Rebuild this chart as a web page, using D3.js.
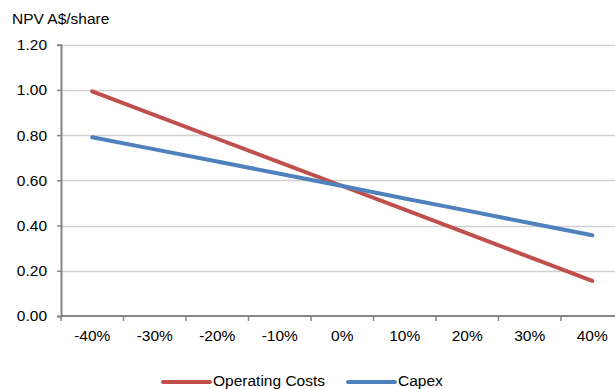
<!DOCTYPE html>
<html>
<head>
<meta charset="utf-8">
<script src="https://cdn.jsdelivr.net/npm/d3@7"></script>
<style>
  html, body { margin: 0; padding: 0; background: #fff; }
  svg { display: block; font-family: "Liberation Sans", Arial, sans-serif; }
</style>
</head>
<body>
<svg id="chart" width="615" height="389"></svg>
<script>
// Sensitivity of NPV to changes in inputs
const categories = ["-40%", "-30%", "-20%", "-10%", "0%", "10%", "20%", "30%", "40%"];
const operatingCosts = [0.994, 0.889, 0.784, 0.679, 0.575, 0.470, 0.365, 0.260, 0.155];
const capex = [0.791, 0.737, 0.683, 0.629, 0.575, 0.520, 0.466, 0.411, 0.357];
const yTicks = [0, 0.2, 0.4, 0.6, 0.8, 1.0, 1.2];

const series = [
  { name: "Operating Costs", values: operatingCosts, color: "#C0504D" },
  { name: "Capex", values: capex, color: "#4F81BD" }
];

const FONT = "'Liberation Sans', Arial, sans-serif";
const FS = "15.5px";

const svg = d3.select("#chart");
const plotLeft = 61, plotTop = 44.7, plotBottom = 316, band = 62.5;

const x = d3.scaleBand()
  .domain(categories)
  .range([plotLeft, plotLeft + band * categories.length])
  .paddingInner(0).paddingOuter(0);

const y = d3.scaleLinear().domain([0, 1.2]).range([plotBottom, plotTop]);

// horizontal gridlines
svg.append("g")
  .selectAll("line")
  .data(yTicks.filter(d => d > 0))
  .join("line")
  .attr("x1", plotLeft).attr("x2", 615)
  .attr("y1", d => Math.round(y(d)) + 0.5)
  .attr("y2", d => Math.round(y(d)) + 0.5)
  .attr("stroke", "#d0d0d0")
  .attr("stroke-width", 1.3);

// y axis
const yAxis = svg.append("g")
  .attr("transform", `translate(${plotLeft},0)`)
  .call(d3.axisLeft(y).tickValues(yTicks).tickFormat(d3.format(".2f")).tickSize(4).tickPadding(10));
yAxis.select(".domain").attr("stroke", "#868686").attr("stroke-width", 2);
yAxis.selectAll(".tick line").attr("stroke", "#868686").attr("stroke-width", 1.5);
yAxis.selectAll("text").attr("fill", "#000").style("font-size", FS).style("font-family", FONT);

// x axis: labels centred in each band, ticks on band edges
const xAxis = svg.append("g")
  .attr("transform", `translate(0,${plotBottom})`)
  .call(d3.axisBottom(x).tickSize(0).tickPadding(14));
xAxis.select(".domain").remove();
xAxis.selectAll("text").attr("fill", "#000").style("font-size", FS).style("font-family", FONT);
svg.append("line")
  .attr("x1", plotLeft).attr("x2", 615)
  .attr("y1", plotBottom).attr("y2", plotBottom)
  .attr("stroke", "#868686").attr("stroke-width", 2);
svg.append("g")
  .selectAll("line")
  .data(categories)
  .join("line")
  .attr("x1", d => x(d)).attr("x2", d => x(d))
  .attr("y1", plotBottom).attr("y2", plotBottom + 5)
  .attr("stroke", "#868686").attr("stroke-width", 1.5);

// axis title
svg.append("text")
  .attr("x", 12).attr("y", 24)
  .style("font-size", FS).style("font-family", FONT)
  .text("NPV A$/share");

// series lines
const line = d3.line()
  .x((d, i) => x(categories[i]) + x.bandwidth() / 2)
  .y(d => y(d));

svg.append("g")
  .selectAll("path")
  .data(series)
  .join("path")
  .attr("d", s => line(s.values))
  .attr("fill", "none")
  .attr("stroke", s => s.color)
  .attr("stroke-width", 4)
  .attr("stroke-linecap", "round");

// legend
const legendItems = [
  { x0: 163, x1: 210, tx: 213 },
  { x0: 348, x1: 395, tx: 398 }
];
const lg = svg.append("g");
series.forEach((s, i) => {
  const p = legendItems[i];
  lg.append("line")
    .attr("x1", p.x0).attr("x2", p.x1)
    .attr("y1", 382).attr("y2", 382)
    .attr("stroke", s.color).attr("stroke-width", 4)
    .attr("stroke-linecap", "round");
  lg.append("text")
    .attr("x", p.tx).attr("y", 386)
    .style("font-size", FS).style("font-family", FONT)
    .text(s.name);
});
</script>
</body>
</html>
